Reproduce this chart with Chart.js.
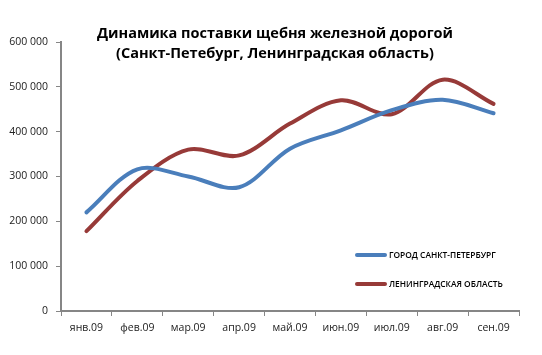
<!DOCTYPE html>
<html>
<head>
<meta charset="utf-8">
<script src="https://cdn.jsdelivr.net/npm/chart.js@4/dist/chart.umd.min.js"></script>
<style>
  html, body { margin: 0; padding: 0; background: #fff; }
  #wrap { position: relative; width: 542px; height: 355px; }
  #title { position: absolute; left: 0; width: 550px; top: 23px; text-align: center;
           font-family: "Open Sans", sans-serif; font-weight: 700; font-size: 14.5px;
           line-height: 20px; color: #000; }
  #legend { position: absolute; left: 355px; top: 240px; font-family: "Open Sans", sans-serif;
            font-weight: 600; font-size: 8.4px; color: #000; }
  .item { display: flex; align-items: center; height: 29px; }
  .sw { width: 32px; height: 4px; margin-right: 2px; border-radius: 2px; }
</style>
</head>
<body>
<div id="wrap">
  <canvas id="c" width="542" height="355"></canvas>
  <div id="title">Динамика поставки щебня железной дорогой<br>(Санкт-Петебург, Ленинградская область)</div>
  <div id="legend"></div>
</div>
<script>
const titleLines = ["Динамика поставки щебня железной дорогой", "(Санкт-Петебург, Ленинградская область)"];
const categories = ["янв.09", "фев.09", "мар.09", "апр.09", "май.09", "июн.09", "июл.09", "авг.09", "сен.09"];
const spbLabel = "ГОРОД САНКТ-ПЕТЕРБУРГ";
const spbValues = [220000, 316000, 300000, 276000, 362000, 403000, 448000, 471000, 441000];
const lenLabel = "ЛЕНИНГРАДСКАЯ ОБЛАСТЬ";
const lenValues = [178000, 290000, 360000, 347000, 418000, 470000, 439000, 516000, 462000];

const BLUE = "#4A7EBB";
const RED = "#973A38";
const AXIS = "#868686";

const datasets = [
  { label: spbLabel, data: spbValues, borderColor: BLUE, backgroundColor: BLUE },
  { label: lenLabel, data: lenValues, borderColor: RED, backgroundColor: RED }
].map(d => Object.assign(d, { borderWidth: 4, pointRadius: 0, tension: 0.33, fill: false, borderCapStyle: 'round', borderJoinStyle: 'round' }));

const legendEl = document.getElementById('legend');
datasets.forEach(d => {
  const it = document.createElement('div'); it.className = 'item';
  const sw = document.createElement('span'); sw.className = 'sw'; sw.style.background = d.borderColor;
  const tx = document.createElement('span'); tx.textContent = d.label;
  it.appendChild(sw); it.appendChild(tx); legendEl.appendChild(it);
});

const fmt = v => String(v).replace(/\B(?=(\d{3})+(?!\d))/g, ' ');

new Chart(document.getElementById('c'), {
  type: 'line',
  data: { labels: categories, datasets },
  options: {
    responsive: false,
    animation: false,
    layout: { padding: { left: 0, right: 23, top: 42, bottom: 0 } },
    plugins: { legend: { display: false }, title: { display: false }, tooltip: { enabled: false } },
    scales: {
      x: {
        offset: true,
        grid: { offset: true, drawOnChartArea: false, drawTicks: true, tickLength: 5, color: AXIS, lineWidth: 1 },
        border: { color: AXIS, width: 2 },
        ticks: { color: "#222", font: { family: "Open Sans", size: 10.5 }, padding: 6, maxRotation: 0, autoSkip: false },
        afterFit: s => { s.height = 44; }
      },
      y: {
        min: 0, max: 600000,
        grid: { drawOnChartArea: false, drawTicks: true, tickLength: 5, color: AXIS, lineWidth: 1 },
        border: { color: AXIS, width: 2 },
        ticks: { stepSize: 100000, color: "#222", font: { family: "Open Sans", size: 10.5 }, padding: 8, callback: v => fmt(v) },
        afterFit: s => { s.width = 61; }
      }
    }
  }
});
</script>
</body>
</html>
